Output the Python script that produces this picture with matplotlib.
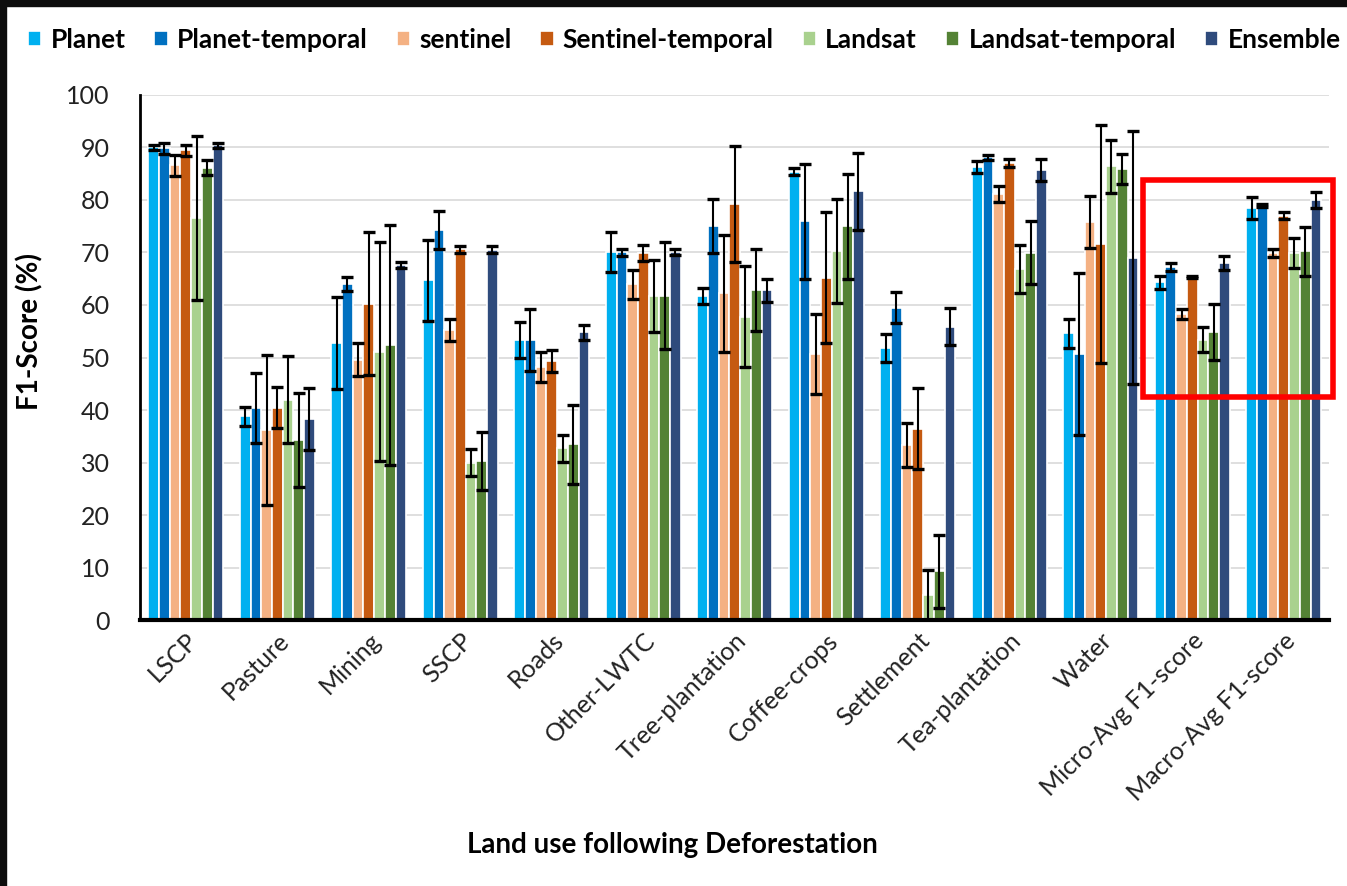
import matplotlib
matplotlib.use("Agg")
import matplotlib.pyplot as plt
import numpy as np
from matplotlib.patches import Rectangle

plt.rcParams["font.family"] = ["Lato", "DejaVu Sans"]

categories = ["LSCP", "Pasture", "Mining", "SSCP", "Roads", "Other-LWTC",
              "Tree-plantation", "Coffee-crops", "Settlement", "Tea-plantation",
              "Water", "Micro-Avg F1-score", "Macro-Avg F1-score"]

series = ["Planet", "Planet-temporal", "sentinel", "Sentinel-temporal",
          "Landsat", "Landsat-temporal", "Ensemble"]

planet = [90.0, 38.8, 52.8, 64.7, 53.4, 70.0, 61.7, 85.4, 51.8, 86.3, 54.6, 64.3, 78.5]
planet_err = [0.5, 1.8, 8.8, 7.7, 3.4, 3.8, 1.5, 0.7, 2.7, 1.1, 2.8, 1.3, 2.1]

planet_temporal = [89.8, 40.4, 64.0, 74.3, 53.4, 70.0, 75.0, 75.9, 59.5, 88.1, 50.6, 67.2, 78.9]
planet_temporal_err = [1.0, 6.7, 1.3, 3.6, 5.9, 0.6, 5.1, 11.0, 2.9, 0.5, 15.4, 0.7, 0.3]

sentinel = [86.6, 36.2, 49.6, 55.2, 48.2, 63.9, 62.2, 50.6, 33.4, 81.1, 75.8, 58.3, 69.9]
sentinel_err = [2.0, 14.3, 3.2, 2.1, 2.8, 2.7, 11.2, 7.6, 4.2, 1.5, 5.0, 1.0, 0.8]

sentinel_temporal = [89.4, 40.4, 60.2, 70.6, 49.3, 69.9, 79.2, 65.2, 36.4, 87.0, 71.6, 65.4, 77.0]
sentinel_temporal_err = [1.0, 3.9, 13.6, 0.7, 2.1, 1.5, 11.1, 12.4, 7.7, 0.8, 22.7, 0.2, 0.6]

landsat = [76.6, 42.0, 51.1, 30.0, 32.7, 61.7, 57.8, 70.3, 4.8, 66.8, 86.4, 53.4, 69.9]
landsat_err = [15.6, 8.2, 20.8, 2.6, 2.6, 6.9, 9.6, 9.9, 4.8, 4.6, 5.0, 2.4, 2.8]

landsat_temporal = [86.1, 34.3, 52.4, 30.3, 33.5, 61.8, 62.9, 75.0, 9.3, 69.9, 85.9, 54.8, 70.2]
landsat_temporal_err = [1.4, 9.0, 22.9, 5.6, 7.5, 10.1, 7.8, 10.0, 7.0, 6.0, 2.8, 5.3, 4.7]

ensemble = [90.4, 38.2, 67.6, 70.5, 54.8, 70.1, 62.8, 81.6, 55.9, 85.7, 69.0, 68.0, 80.0]
ensemble_err = [0.5, 5.9, 0.6, 0.7, 1.4, 0.5, 2.2, 7.3, 3.5, 2.1, 24.1, 1.3, 1.5]

values = [planet, planet_temporal, sentinel, sentinel_temporal,
          landsat, landsat_temporal, ensemble]
errors = [planet_err, planet_temporal_err, sentinel_err, sentinel_temporal_err,
          landsat_err, landsat_temporal_err, ensemble_err]
colors = ["#00B0F0", "#0070C0", "#F4B183", "#C55A11",
          "#A9D18E", "#548235", "#2F4B7C"]

fig = plt.figure(figsize=(13.47, 8.86), dpi=100)
ax = fig.add_axes([0.104, 0.300, 0.883, 0.593])

x = np.arange(len(categories))
width = 0.117
for i, (vals, errs, col, name) in enumerate(zip(values, errors, colors, series)):
    pos = x + (i - 3) * width
    ax.bar(pos, vals, width, color=col, edgecolor="white", linewidth=1.2,
           label=name, zorder=2)
    ax.errorbar(pos, vals, yerr=errs, fmt="none", ecolor="black",
                elinewidth=1.5, capsize=4, capthick=2.4, zorder=3)

ax.set_xlim(-0.5, len(categories) - 0.5)
ax.set_ylim(0, 100)
ax.set_yticks(np.arange(0, 101, 10))
ax.yaxis.grid(True, color="#d9d9d9", linewidth=1.2, zorder=0)
ax.set_axisbelow(True)
ax.tick_params(axis="y", length=0, labelsize=18, labelcolor="#222222", pad=22)
ax.tick_params(axis="x", length=0, labelsize=18, labelcolor="#222222", pad=6)
ax.set_xticks(x)
ax.set_xticklabels(categories, rotation=45, ha="right", rotation_mode="anchor")

for side in ["top", "right"]:
    ax.spines[side].set_visible(False)
ax.spines["left"].set_linewidth(2)
ax.spines["bottom"].set_linewidth(3)

ax.set_ylabel("F1-Score (%)", fontsize=20, fontweight="bold")
ax.yaxis.set_label_coords(-0.081, 0.55)
fig.text(0.499, 0.046, "Land use following Deforestation", ha="center",
         va="center", fontsize=20, fontweight="bold")

fig.legend(loc="center", bbox_to_anchor=(0.508, 0.955), ncol=7, frameon=False,
           prop={"weight": "bold", "size": 19},
           handlelength=0.5, handleheight=0.5, handletextpad=0.35,
           columnspacing=1.1)

# highlight box around the averaged scores
ax.add_patch(Rectangle((10.46, 42.5), 2.08, 41.3, fill=False,
                       edgecolor="#ff0000", linewidth=4, clip_on=False,
                       zorder=5))

# dark frame along the top and left edges
fig.patches.append(Rectangle((0, 0), 6 / 1347, 1, transform=fig.transFigure,
                             color="#0d0d0d", zorder=10))
fig.patches.append(Rectangle((0, 1 - 6 / 886), 1, 6 / 886,
                             transform=fig.transFigure, color="#0d0d0d",
                             zorder=10))

fig.savefig("out.png", dpi=100)
